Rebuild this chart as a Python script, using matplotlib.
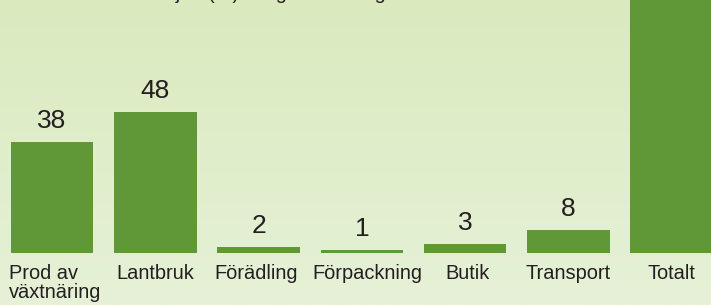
import numpy as np
import matplotlib
matplotlib.use("Agg")
import matplotlib.pyplot as plt
import matplotlib.transforms as mtransforms

# data (percent share per step, total = 100)
categories = ["Prod av\nväxtnäring", "Lantbruk", "Förädling", "Förpackning",
              "Butik", "Transport", "Totalt"]
values = [38, 48, 2, 1, 3, 8, 100]
title = "Fördelat över kedjan (%) enligt beräkning"

bar_color = "#609838"
text_color = "#231f20"

plt.rcParams["font.family"] = ["Liberation Sans", "DejaVu Sans"]

fig = plt.figure(figsize=(7.11, 3.05), dpi=100)

# light green vertical gradient behind everything
bg = fig.add_axes([0, 0, 1, 1], zorder=0)
top = np.array([218, 234, 190]) / 255
bottom = np.array([230, 241, 215]) / 255
t = np.linspace(0, 1, 256)[:, None]
grad = top[None, None, :] * (1 - t[..., None]) + bottom[None, None, :] * t[..., None]
grad = np.repeat(grad, 2, axis=1)
bg.imshow(grad, aspect="auto", extent=[0, 1, 0, 1])
bg.axis("off")

# bar axes: the picture is a crop, so the Totalt bar runs off the top
ax = fig.add_axes([0, 52 / 305, 1, 253 / 305], zorder=1)
ax.patch.set_alpha(0)
x = np.arange(len(categories))
ax.bar(x, values, width=0.8, color=bar_color)
for xi, v in zip(x, values):
    ax.annotate(str(v), (xi, v), xytext=(0, 10), textcoords="offset points",
                ha="center", va="baseline", fontsize=19, color=text_color)

ax.set_xlim(-0.503, 6.38)
ax.set_ylim(0, 86.3)
ax.set_yticks([])
ax.set_xticks(x)
ax.set_xticklabels(categories, fontsize=14.4, color=text_color, ma="left",
                   linespacing=1.0)
ax.tick_params(axis="x", length=0, pad=8)
for s in ax.spines.values():
    s.set_visible(False)

# the original nudges a couple of labels sideways
for lbl, dx in zip(ax.get_xticklabels(), [3, 0, -2, 6, 2, 0, 0]):
    lbl.set_transform(lbl.get_transform() +
                      mtransforms.ScaledTranslation(dx / 100, 0, fig.dpi_scale_trans))

# heading sits mostly above the cropped top edge
fig.text(20 / 711, 1 + 1 / 305, title, fontsize=14.4, color=text_color,
         va="baseline", ha="left")

fig.savefig("out.png", dpi=100)
